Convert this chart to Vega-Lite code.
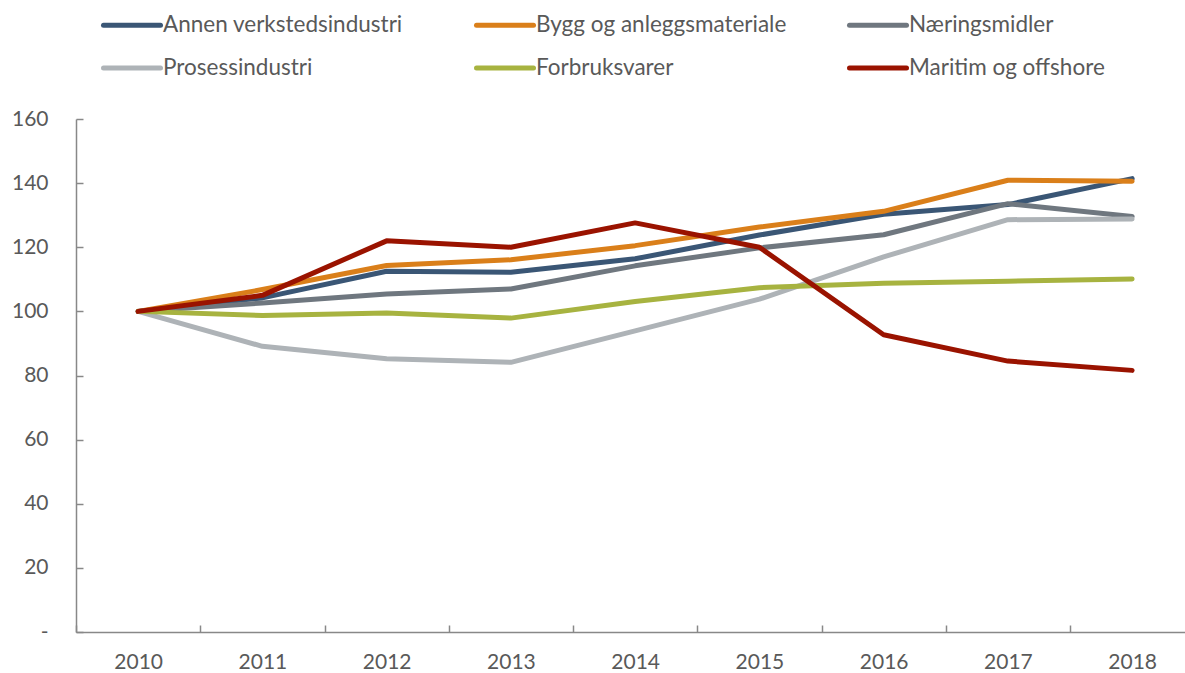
{
  "$schema": "https://vega.github.io/schema/vega-lite/v6.json",
  "autosize": {"type": "none"},
  "padding": {"left": 76, "top": 119, "right": 0, "bottom": 41},
  "width": 1109,
  "height": 513,
  "background": "white",
  "config": {
    "view": {"stroke": null},
    "font": "Lato",
    "axis": {"labelFont": "Lato", "labelFontSize": 21, "labelColor": "#595959", "domainColor": "#888888", "tickColor": "#888888", "domainWidth": 1.5, "tickWidth": 1.5, "grid": false, "title": null}
  },
  "data": {
    "values": [
      {"year": "2010", "series": "Annen verkstedsindustri", "value": 100},
      {"year": "2011", "series": "Annen verkstedsindustri", "value": 104.2},
      {"year": "2012", "series": "Annen verkstedsindustri", "value": 112.5},
      {"year": "2013", "series": "Annen verkstedsindustri", "value": 112.2},
      {"year": "2014", "series": "Annen verkstedsindustri", "value": 116.4},
      {"year": "2015", "series": "Annen verkstedsindustri", "value": 123.8},
      {"year": "2016", "series": "Annen verkstedsindustri", "value": 130.3},
      {"year": "2017", "series": "Annen verkstedsindustri", "value": 133.3},
      {"year": "2018", "series": "Annen verkstedsindustri", "value": 141.4},
      {"year": "2010", "series": "Bygg og anleggsmateriale", "value": 100},
      {"year": "2011", "series": "Bygg og anleggsmateriale", "value": 106.8},
      {"year": "2012", "series": "Bygg og anleggsmateriale", "value": 114.3},
      {"year": "2013", "series": "Bygg og anleggsmateriale", "value": 116.1},
      {"year": "2014", "series": "Bygg og anleggsmateriale", "value": 120.5},
      {"year": "2015", "series": "Bygg og anleggsmateriale", "value": 126.3},
      {"year": "2016", "series": "Bygg og anleggsmateriale", "value": 131.2},
      {"year": "2017", "series": "Bygg og anleggsmateriale", "value": 140.9},
      {"year": "2018", "series": "Bygg og anleggsmateriale", "value": 140.6},
      {"year": "2010", "series": "Næringsmidler", "value": 100},
      {"year": "2011", "series": "Næringsmidler", "value": 102.6},
      {"year": "2012", "series": "Næringsmidler", "value": 105.4},
      {"year": "2013", "series": "Næringsmidler", "value": 107.0},
      {"year": "2014", "series": "Næringsmidler", "value": 114.2},
      {"year": "2015", "series": "Næringsmidler", "value": 119.8},
      {"year": "2016", "series": "Næringsmidler", "value": 123.9},
      {"year": "2017", "series": "Næringsmidler", "value": 133.6},
      {"year": "2018", "series": "Næringsmidler", "value": 129.6},
      {"year": "2010", "series": "Prosessindustri", "value": 100},
      {"year": "2011", "series": "Prosessindustri", "value": 89.1},
      {"year": "2012", "series": "Prosessindustri", "value": 85.2},
      {"year": "2013", "series": "Prosessindustri", "value": 84.1},
      {"year": "2014", "series": "Prosessindustri", "value": 93.9},
      {"year": "2015", "series": "Prosessindustri", "value": 103.8},
      {"year": "2016", "series": "Prosessindustri", "value": 117.0},
      {"year": "2017", "series": "Prosessindustri", "value": 128.6},
      {"year": "2018", "series": "Prosessindustri", "value": 128.8},
      {"year": "2010", "series": "Forbruksvarer", "value": 100},
      {"year": "2011", "series": "Forbruksvarer", "value": 98.7},
      {"year": "2012", "series": "Forbruksvarer", "value": 99.5},
      {"year": "2013", "series": "Forbruksvarer", "value": 97.9},
      {"year": "2014", "series": "Forbruksvarer", "value": 103.1},
      {"year": "2015", "series": "Forbruksvarer", "value": 107.4},
      {"year": "2016", "series": "Forbruksvarer", "value": 108.8},
      {"year": "2017", "series": "Forbruksvarer", "value": 109.4},
      {"year": "2018", "series": "Forbruksvarer", "value": 110.1},
      {"year": "2010", "series": "Maritim og offshore", "value": 100},
      {"year": "2011", "series": "Maritim og offshore", "value": 105.0},
      {"year": "2012", "series": "Maritim og offshore", "value": 122.0},
      {"year": "2013", "series": "Maritim og offshore", "value": 120.0},
      {"year": "2014", "series": "Maritim og offshore", "value": 127.6},
      {"year": "2015", "series": "Maritim og offshore", "value": 120.0},
      {"year": "2016", "series": "Maritim og offshore", "value": 92.7},
      {"year": "2017", "series": "Maritim og offshore", "value": 84.5},
      {"year": "2018", "series": "Maritim og offshore", "value": 81.6}
    ]
  },
  "mark": {"type": "line", "strokeWidth": 5, "strokeCap": "round", "strokeJoin": "round"},
  "encoding": {
    "x": {
      "field": "year", "type": "ordinal",
      "scale": {"type": "band", "range": [0, 1118.25], "paddingInner": 0, "paddingOuter": 0},
      "axis": {"labelAngle": 0, "tickBand": "extent", "tickSize": -7, "labelPadding": 26, "labelBaseline": "top"}
    },
    "y": {
      "field": "value", "type": "quantitative",
      "scale": {"domain": [0, 160], "nice": false, "zero": true},
      "axis": {"values": [0, 20, 40, 60, 80, 100, 120, 140, 160], "tickSize": -7, "labelPadding": 35, "labelExpr": "datum.value === 0 ? '-\u00a0\u00a0\u00a0' : datum.label"}
    },
    "color": {
      "field": "series", "type": "nominal",
      "scale": {
        "domain": ["Annen verkstedsindustri", "Bygg og anleggsmateriale", "Næringsmidler", "Prosessindustri", "Forbruksvarer", "Maritim og offshore"],
        "range": ["#3A5675", "#DA7F1A", "#6F777F", "#AEB3B7", "#A7B340", "#9A1300"]
      },
      "legend": {
        "title": null,
        "orient": "none",
        "legendX": 25,
        "legendY": -125,
        "direction": "horizontal",
        "columns": 3,
        "gridAlign": "all",
        "columnPadding": 52,
        "rowPadding": -12,
        "padding": 0,
        "symbolType": "stroke",
        "symbolSize": 3249,
        "symbolStrokeWidth": 5,
        "labelOffset": 0,
        "labelFont": "Lato",
        "labelFontSize": 22.5,
        "labelColor": "#595959",
        "labelLimit": 400,
        "encode": {"symbols": {"update": {"strokeCap": {"value": "round"}}}}
      }
    }
  }
}
